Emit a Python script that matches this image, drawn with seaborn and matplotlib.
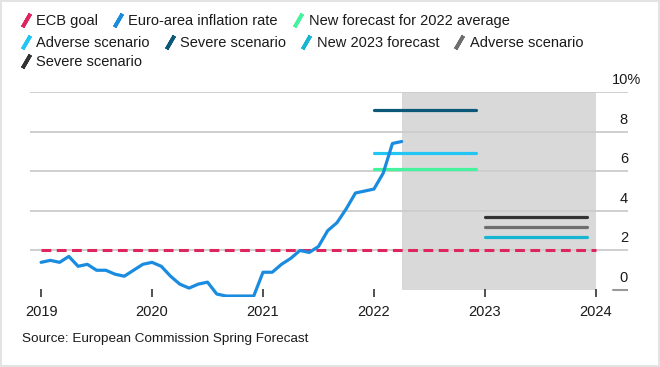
import numpy as np
import pandas as pd
import seaborn as sns
import matplotlib.pyplot as plt
from matplotlib.lines import Line2D
from matplotlib.transforms import ScaledTranslation

# monthly euro-area HICP inflation, Jan 2019 .. Apr 2022 (%)
inflation = [
    1.4, 1.5, 1.4, 1.7, 1.2, 1.3, 1.0, 1.0, 0.8, 0.7, 1.0, 1.3,
    1.4, 1.2, 0.7, 0.3, 0.1, 0.3, 0.4, -0.2, -0.3, -0.3, -0.3, -0.3,
    0.9, 0.9, 1.3, 1.6, 2.0, 1.9, 2.2, 3.0, 3.4, 4.1, 4.9, 5.0,
    5.1, 5.9, 7.4, 7.5,
]
first_year = 2019

ecb_goal = 2.0
ecb_span = [2019.0, 2024.0]

# forecast bars: label, value, start, end
forecast_names = ["New forecast for 2022 average", "Adverse scenario", "Severe scenario",
                  "New 2023 forecast", "Adverse scenario", "Severe scenario"]
forecast_values = [6.1, 6.9, 9.1, 2.7, 3.2, 3.7]
forecast_start = [2022.0, 2022.0, 2022.0, 2023.0, 2023.0, 2023.0]
forecast_end = [2022.92, 2022.92, 2022.92, 2023.92, 2023.92, 2023.92]

shade_span = [2022.25, 2024.0]

year_ticks = [2019, 2020, 2021, 2022, 2023, 2024]
y_ticks = [0, 2, 4, 6, 8, 10]
y_labels = ["0", "2", "4", "6", "8", "10%"]

ecb_color = "#e0245e"
infl_color = "#1a8ce0"
forecast_colors = ["#45f29d", "#22c6f5", "#0c5878", "#16b6d2", "#6e6e6e", "#333333"]
text_color = "#1a1a1a"

sns.set_style("white")
plt.rcParams["font.family"] = ["Liberation Sans", "DejaVu Sans"]

fig = plt.figure(figsize=(6.6, 3.67), dpi=100)
ax = fig.add_axes([30 / 660, 1 - 297 / 367, 598 / 660, 205 / 367])

# shaded forecast period
ax.fill_between(shade_span, 0, 10, color="#d9d9d9", linewidth=0, zorder=1)

# actual inflation
df_infl = pd.DataFrame({
    "date": first_year + np.arange(len(inflation)) / 12,
    "rate": inflation,
})
sns.lineplot(data=df_infl, x="date", y="rate", ax=ax, color=infl_color,
             linewidth=2.3, zorder=4)

# ECB goal
df_goal = pd.DataFrame({"date": ecb_span, "rate": [ecb_goal, ecb_goal]})
sns.lineplot(data=df_goal, x="date", y="rate", ax=ax, color=ecb_color,
             linewidth=2.2, dashes=False, zorder=3)
ax.lines[-1].set_dashes([3.2, 1.8])

# forecast bars
rows = []
for i, (v, s, e) in enumerate(zip(forecast_values, forecast_start, forecast_end)):
    rows.append({"key": i, "date": s, "rate": v})
    rows.append({"key": i, "date": e, "rate": v})
df_fc = pd.DataFrame(rows)
sns.lineplot(data=df_fc, x="date", y="rate", hue="key",
             palette=dict(enumerate(forecast_colors)), ax=ax,
             linewidth=2.3, legend=False, zorder=3)

# axes styling
ax.set_xlim(2018.9, 2024.29)
ax.set_ylim(-0.35, 10)
for sp in ax.spines.values():
    sp.set_visible(False)
ax.set_xlabel("")
ax.set_ylabel("")

ax.set_xticks(year_ticks)
ax.set_xticklabels([str(y) for y in year_ticks])
ax.tick_params(axis="x", direction="in", length=6, width=1.2, color="#333333",
               pad=6, labelsize=10.5, labelcolor=text_color, bottom=True)

ax.yaxis.tick_right()
ax.set_yticks(y_ticks)
ax.set_yticklabels(y_labels)
ax.tick_params(axis="y", length=0, pad=0, labelsize=10.5, labelcolor=text_color)
plt.setp(ax.get_yticklabels(), ha="right", va="bottom")
for lab in ax.get_yticklabels():
    dx = 13 if "%" in lab.get_text() else 0
    lab.set_transform(lab.get_transform() +
                      ScaledTranslation(dx / 100, 5 / 100, fig.dpi_scale_trans))

ax.set_axisbelow("line")
ax.grid(axis="y", color="#cccccc", linewidth=1.3)
ax.grid(axis="x", visible=False)
ax.yaxis.get_gridlines()[0].set_visible(False)
ax.axhline(0, xmin=0.975, xmax=1, color="#999999", linewidth=1.5)

# legend, three rows of slanted-stroke keys
legend_names = ["ECB goal", "Euro-area inflation rate"] + forecast_names
legend_colors = [ecb_color, infl_color] + forecast_colors
handles = [Line2D([], [], linestyle="none", marker=(2, 2, -30), markersize=11,
                  markeredgewidth=2.6, color=c) for c in legend_colors]
row_slices = [(0, 3), (3, 7), (7, 8)]
row_tops = [14, 36, 55]
for (a, b), top in zip(row_slices, row_tops):
    fig.legend(handles[a:b], legend_names[a:b], loc="upper left",
               bbox_to_anchor=(19 / 660, 1 - top / 367), ncol=b - a,
               frameon=False, handlelength=0.9, handletextpad=0.25,
               columnspacing=0.95, borderaxespad=0, borderpad=0,
               fontsize=10.5, labelcolor=text_color)

fig.text(22 / 660, 1 - 339 / 367, "Source: European Commission Spring Forecast",
         fontsize=9.7, color=text_color, va="center", ha="left")

fig.patch.set_edgecolor("#e3e3e3")
fig.patch.set_linewidth(1.5)
fig.savefig("out.png", dpi=100, facecolor="white", edgecolor=fig.get_edgecolor())
